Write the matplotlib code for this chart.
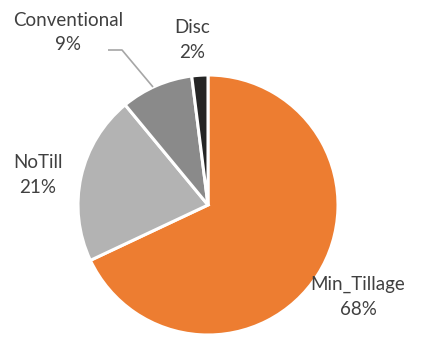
import matplotlib
matplotlib.use("Agg")
import matplotlib.pyplot as plt
import numpy as np

categories = ["Min_Tillage", "NoTill", "Conventional", "Disc"]
shares = [68, 21, 9, 2]
colors = ["#ED7D31", "#B3B3B3", "#8A8A8A", "#252525"]

W, H, DPI = 437, 337, 100
cx, cy, R = 208, 205, 130  # pie centre and radius in pixels

fig = plt.figure(figsize=(W / DPI, H / DPI), dpi=DPI)
ax = fig.add_axes([0, 0, 1, 1])

wedges, _ = ax.pie(shares, colors=colors, startangle=90, counterclock=False,
                   radius=1.0, wedgeprops=dict(edgecolor="white", linewidth=2.2))
ax.set_aspect("auto")
ax.set_xlim(-cx / R, (W - cx) / R)
ax.set_ylim(-(H - cy) / R, cy / R)
ax.axis("off")

# label placement: (angle in degrees, distance from centre in radii)
label_pos = {
    "Min_Tillage": (-31.5, 1.354),
    "NoTill": (170.0, 1.328),
    "Conventional": (129.0, 1.706),
    "Disc": (95.5, 1.275),
}
text_kw = dict(fontsize=13.5, color="#404040", family="Lato",
               ha="center", va="center", linespacing=1.55)
total = sum(shares)
for name, val in zip(categories, shares):
    ang, dist = label_pos[name]
    x, y = dist * np.cos(np.radians(ang)), dist * np.sin(np.radians(ang))
    ax.text(x, y, f"{name}\n{round(100 * val / total)}%", **text_kw)

# leader line for the Conventional label
ax.plot([(108 - cx) / R, (122 - cx) / R, (153 - cx) / R],
        [(cy - 50) / R, (cy - 50) / R, (cy - 87) / R],
        color="#A6A6A6", lw=1.2, solid_capstyle="butt")

fig.savefig("out.png", dpi=DPI, facecolor="white")
